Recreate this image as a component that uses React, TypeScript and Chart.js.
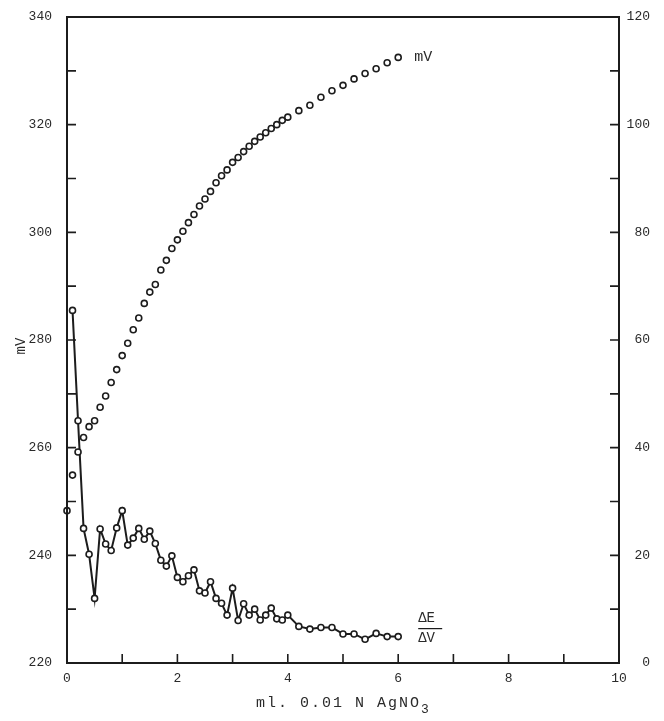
import React, { useEffect, useRef } from 'react';
import { Chart, registerables } from 'chart.js';

Chart.register(...registerables);

// ---- data ----
const mvX = [
  0, 0.1, 0.2, 0.3, 0.4, 0.5, 0.6, 0.7, 0.8, 0.9,
  1.0, 1.1, 1.2, 1.3, 1.4, 1.5, 1.6, 1.7, 1.8, 1.9,
  2.0, 2.1, 2.2, 2.3, 2.4, 2.5, 2.6, 2.7, 2.8, 2.9,
  3.0, 3.1, 3.2, 3.3, 3.4, 3.5, 3.6, 3.7, 3.8, 3.9,
  4.0, 4.2, 4.4, 4.6, 4.8, 5.0, 5.2, 5.4, 5.6, 5.8, 6.0,
];
const mvValues = [
  248.3, 254.9, 259.2, 261.9, 263.9, 265.0, 267.5, 269.6, 272.1, 274.5,
  277.1, 279.4, 281.9, 284.1, 286.8, 288.9, 290.3, 293.0, 294.8, 297.0,
  298.6, 300.2, 301.8, 303.3, 304.9, 306.2, 307.6, 309.2, 310.5, 311.6,
  313.0, 313.9, 315.0, 316.0, 316.9, 317.7, 318.5, 319.3, 320.0, 320.8,
  321.4, 322.6, 323.6, 325.1, 326.3, 327.3, 328.5, 329.5, 330.4, 331.5, 332.5,
];
const dX = [
  0.1, 0.2, 0.3, 0.4, 0.5, 0.6, 0.7, 0.8, 0.9,
  1.0, 1.1, 1.2, 1.3, 1.4, 1.5, 1.6, 1.7, 1.8, 1.9,
  2.0, 2.1, 2.2, 2.3, 2.4, 2.5, 2.6, 2.7, 2.8, 2.9,
  3.0, 3.1, 3.2, 3.3, 3.4, 3.5, 3.6, 3.7, 3.8, 3.9,
  4.0, 4.2, 4.4, 4.6, 4.8, 5.0, 5.2, 5.4, 5.6, 5.8, 6.0,
];
const dValues = [
  65.5, 45.0, 25.0, 20.2, 12.0, 24.9, 22.1, 20.9, 25.1,
  28.3, 21.9, 23.2, 25.0, 23.0, 24.5, 22.2, 19.1, 18.0, 19.9,
  15.9, 15.1, 16.2, 17.3, 13.4, 13.0, 15.1, 12.0, 11.1, 8.9,
  13.9, 7.9, 11.0, 8.9, 10.0, 8.0, 8.9, 10.2, 8.2, 8.0,
  8.9, 6.8, 6.3, 6.6, 6.6, 5.4, 5.4, 4.4, 5.5, 4.9, 4.9,
];
const xTickValues = [0, 2, 4, 6, 8, 10];
const yTickValues = [220, 240, 260, 280, 300, 320, 340];
const y2TickValues = [0, 20, 40, 60, 80, 100, 120];
const xTitle = 'ml. 0.01 N AgNO';
const xTitleSub = '3';
const yTitle = 'mV';
const mvLabel = 'mV';
const dLabelTop = 'ΔE';
const dLabelBottom = 'ΔV';

const FONT = '"Liberation Mono", "DejaVu Sans Mono", monospace';
const INK = '#1c1c1c';
const TEXT = '#2a2a2a';

const framePlugin = {
  id: 'framePlugin',
  afterDraw(chart: any) {
    const { ctx, chartArea: a, scales } = chart;
    const sx = scales.x, sy = scales.y, sy2 = scales.y2;
    ctx.save();
    ctx.strokeStyle = INK;
    ctx.lineWidth = 2;
    ctx.strokeRect(a.left, a.top, a.right - a.left, a.bottom - a.top);
    ctx.lineWidth = 1.6;
    const L = 9;
    ctx.beginPath();
    for (let v = sx.min + 1; v < sx.max; v += 1) {
      const px = sx.getPixelForValue(v);
      ctx.moveTo(px, a.bottom);
      ctx.lineTo(px, a.bottom - L);
    }
    for (let v = sy.min + 10; v < sy.max; v += 10) {
      const py = sy.getPixelForValue(v);
      ctx.moveTo(a.left, py);
      ctx.lineTo(a.left + L, py);
    }
    for (let v = sy2.min + 10; v < sy2.max; v += 10) {
      const py = sy2.getPixelForValue(v);
      ctx.moveTo(a.right, py);
      ctx.lineTo(a.right - L, py);
    }
    ctx.stroke();

    ctx.fillStyle = TEXT;
    // x title with subscript
    ctx.font = `15px ${FONT}`;
    ctx.textBaseline = 'middle';
    const adv = 11;
    const totalW = adv * xTitle.length + 9;
    let cx = (a.left + a.right) / 2 - totalW / 2;
    const ty = a.bottom + 40;
    ctx.textAlign = 'left';
    for (const ch of xTitle) {
      ctx.fillText(ch, cx, ty);
      cx += adv;
    }
    ctx.font = `13px ${FONT}`;
    ctx.fillText(xTitleSub, cx, ty + 7);

    // y title
    ctx.save();
    ctx.translate(21, (a.top + a.bottom) / 2 + 6);
    ctx.rotate(-Math.PI / 2);
    ctx.font = `14px ${FONT}`;
    ctx.textAlign = 'center';
    ctx.fillText(yTitle, 0, 0);
    ctx.restore();

    // series labels
    const lastMvX = sx.getPixelForValue(mvX[mvX.length - 1]);
    const lastMvY = sy.getPixelForValue(mvValues[mvValues.length - 1]);
    ctx.font = `15px ${FONT}`;
    ctx.textAlign = 'left';
    ctx.fillText(mvLabel, lastMvX + 16, lastMvY);

    const lastDX = sx.getPixelForValue(dX[dX.length - 1]);
    const lastDY = sy2.getPixelForValue(dValues[dValues.length - 1]);
    const lx = lastDX + 20;
    ctx.font = `14px ${FONT}`;
    ctx.fillText(dLabelTop, lx, lastDY - 18);
    ctx.fillText(dLabelBottom, lx, lastDY + 2);
    ctx.lineWidth = 1.2;
    ctx.beginPath();
    ctx.moveTo(lx, lastDY - 8);
    ctx.lineTo(lx + 24, lastDY - 8);
    ctx.stroke();
    ctx.restore();
  },
};

const fitY = (w: number) => (s: any) => {
  s.width = w;
  s.paddingTop = 0;
  s.paddingBottom = 0;
};

export default function App() {
  const ref = useRef<HTMLCanvasElement | null>(null);
  useEffect(() => {
    if (!ref.current) return;
    const tickFont = { family: FONT, size: 13 };
    const chart = new Chart(ref.current, {
      type: 'scatter',
      data: {
        datasets: [
          {
            label: 'mV',
            data: mvX.map((x, i) => ({ x, y: mvValues[i] })),
            yAxisID: 'y',
            showLine: false,
            clip: false,
            pointRadius: 3,
            pointBorderWidth: 1.6,
            pointBorderColor: INK,
            pointBackgroundColor: '#ffffff',
          },
          {
            label: 'ΔE/ΔV',
            data: dX.map((x, i) => ({ x, y: dValues[i] })),
            yAxisID: 'y2',
            showLine: true,
            clip: false,
            borderColor: INK,
            borderWidth: 2,
            pointRadius: 3,
            pointBorderWidth: 1.6,
            pointBorderColor: INK,
            pointBackgroundColor: '#ffffff',
          },
        ],
      },
      options: {
        responsive: false,
        animation: false,
        layout: { padding: { top: 17, left: 0, right: 14, bottom: 0 } },
        plugins: { legend: { display: false }, tooltip: { enabled: false } },
        scales: {
          x: {
            type: 'linear',
            min: 0,
            max: 10,
            afterBuildTicks: (s: any) => { s.ticks = xTickValues.map((v) => ({ value: v })); },
            afterFit: (s: any) => { s.height = 58; s.paddingLeft = 0; s.paddingRight = 0; },
            grid: { display: false },
            border: { display: false },
            ticks: { font: tickFont, color: TEXT, padding: 0, maxRotation: 0 },
          },
          y: {
            position: 'left',
            min: 220,
            max: 340,
            afterBuildTicks: (s: any) => { s.ticks = yTickValues.map((v) => ({ value: v })); },
            afterFit: fitY(67),
            grid: { display: false },
            border: { display: false },
            ticks: { font: tickFont, color: TEXT, padding: 7 },
          },
          y2: {
            position: 'right',
            min: 0,
            max: 120,
            afterBuildTicks: (s: any) => { s.ticks = y2TickValues.map((v) => ({ value: v })); },
            afterFit: fitY(31),
            grid: { display: false },
            border: { display: false },
            ticks: { font: tickFont, color: TEXT, padding: 0, crossAlign: 'far' },
          },
        },
      },
      plugins: [framePlugin],
    } as any);
    return () => chart.destroy();
  }, []);
  return (
    <div style={{ position: 'absolute', left: 0, top: 0, width: 664, height: 721, background: '#fff' }}>
      <canvas ref={ref} width={664} height={721} style={{ width: 664, height: 721 }} />
    </div>
  );
}
